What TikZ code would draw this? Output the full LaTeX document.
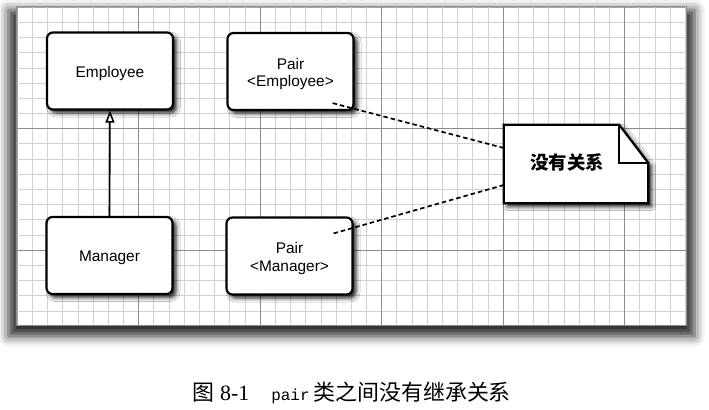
\documentclass[tikz,border=0pt]{standalone}
\usepackage{fontspec}
\setmainfont{Liberation Serif}
\setsansfont{Liberation Sans}
\setmonofont{Liberation Mono}
\newfontfamily\cjk{Noto Sans CJK SC}
\usetikzlibrary{arrows.meta,shadows.blur}
\newcommand\boxlines[1]{\raisebox{-3bp}[\height][\depth]{\begin{tabular}{@{}c@{}}#1\end{tabular}}}
\begin{document}
\begin{tikzpicture}[x=1bp,y=-1bp,
  panelbox/.style={fill=white, draw=black!35, line width=0.6bp, minimum width=669bp, minimum height=318bp, inner sep=0pt,
    blur shadow={shadow xshift=0bp, shadow yshift=-7bp, shadow scale=1.025, shadow blur radius=10bp, shadow opacity=85}},
  minorline/.style={draw=black!18, line width=0.5bp},
  majorline/.style={draw=black!45, line width=0.7bp},
  classbox/.style={draw, line width=2.2bp, rounded corners=6bp, fill=white, minimum width=126bp, minimum height=77bp,
    inner sep=0pt, font=\sffamily\fontsize{15.5}{17.5}\selectfont,
    blur shadow={shadow xshift=3.5bp, shadow yshift=-3.5bp, shadow blur radius=4bp, shadow opacity=90}},
  notebox/.style={minimum width=144bp, minimum height=78bp, inner sep=0pt},
  noteline/.style={draw, line width=2.2bp, fill=white, line join=miter,
    blur shadow={shadow xshift=3.5bp, shadow yshift=-3.5bp, shadow blur radius=4bp, shadow opacity=90}},
  inherit/.style={draw, line width=1.6bp, -{Triangle[open, length=12bp, width=9bp, line width=1.5bp]}},
  relation/.style={draw, line width=1.7bp, dash pattern=on 4.5bp off 3bp},
]
\useasboundingbox (0,0) rectangle (709,409);

% panel with grid
\node[panelbox] (panel) at (351.5,166) {};
\foreach \i in {1,...,44} \draw[minorline] ({17+\i*15.1875},7) -- ({17+\i*15.1875},325);
\foreach \j in {1,...,20} \draw[minorline] (17,{7+\j*15.1875}) -- (686,{7+\j*15.1875});
\foreach \i in {1,...,5} \draw[majorline] ({17+\i*121.5},7) -- ({17+\i*121.5},325);
\foreach \j in {1,2} \draw[majorline] (17,{7+\j*121.5}) -- (686,{7+\j*121.5});
\draw[draw=black!45, line width=0.7bp] (panel.north west) rectangle (panel.south east);

% class boxes
\node[classbox] (emp) at (110,71) {\boxlines{Employee}};
\node[classbox] (pemp) at (290.5,71.5) {\boxlines{Pair\\\textless Employee\textgreater}};
\node[classbox] (mgr) at (109.5,255.5) {\boxlines{Manager}};
\node[classbox] (pmgr) at (289.5,256) {\boxlines{Pair\\\textless Manager\textgreater}};

% note
\node[notebox] (note) at (576,164) {};
\path[noteline] (note.north west) -- ([xshift=-29bp]note.north east) -- ([yshift=-38bp]note.north east)
  -- (note.south east) -- (note.south west) -- cycle;
\draw[line width=2.2bp, line join=miter] ([xshift=-29bp]note.north east) -- ([xshift=-29bp,yshift=-38bp]note.north east)
  -- ([yshift=-38bp]note.north east);
\node[font=\cjk\bfseries\fontsize{18.5}{18.5}\selectfont] (notetext) at ([xshift=-9bp,yshift=2bp]note.center) {没有关系};

% connectors
\draw[inherit] (mgr.north) -- (emp.south);
\coordinate (pempend) at ([xshift=-22bp,yshift=8bp]pemp.south east);
\coordinate (pmgrend) at ([xshift=-20bp,yshift=-17bp]pmgr.north east);
\draw[relation] (pempend) -- ([yshift=16bp]note.west);
\draw[relation] (pmgrend) -- ([yshift=-21bp]note.west);

% caption
\node[anchor=base west, inner sep=0pt, font=\fontsize{22}{26}\selectfont] (caption) at (192,400)
  {{\cjk 图}\hspace{6bp}8-1\hspace{22bp}{\ttfamily\fontsize{16}{16}\selectfont pair}\hspace{4bp}{\cjk 类之间没有继承关系}};
\end{tikzpicture}
\end{document}
